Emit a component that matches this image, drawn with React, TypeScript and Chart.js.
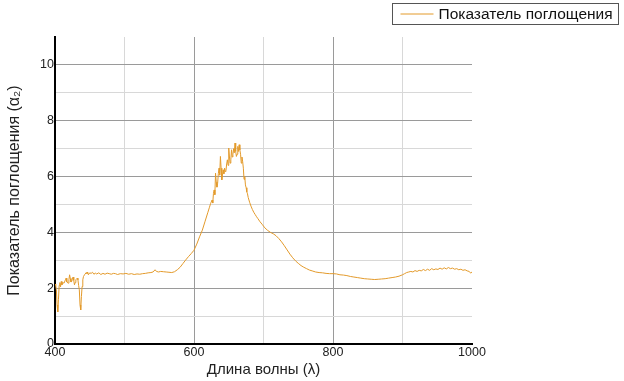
import React, { useEffect, useRef } from 'react';
import { Chart, registerables } from 'chart.js';

Chart.register(...registerables);

const seriesLabel = 'Показатель поглощения';
const xTitle = 'Длина волны (λ)';
const yTitle = 'Показатель поглощения (α₂)';
const xTickLabels = [400, 600, 800, 1000];
const yTickLabels = [0, 2, 4, 6, 8, 10];

const wavelengths = [
  400, 401, 402, 403, 404, 405, 406, 407, 408, 409, 410, 411, 413, 415, 416, 417, 419, 420, 421, 422,
  423, 424, 425, 426, 427, 428, 429, 430, 432, 433, 434, 435, 436, 437, 438, 439, 440, 441, 443, 445,
  446, 447, 448, 450, 452, 454, 456, 458, 460, 463, 466, 469, 472, 475, 478, 481, 484, 487, 490, 494,
  498, 502, 506, 510, 514, 518, 522, 526, 530, 534, 538, 541, 544, 546, 549, 552, 556, 560, 564, 568,
  572, 576, 580, 584, 588, 592, 596, 600, 604, 608, 612, 616, 620, 622, 624, 626, 627, 628, 629, 630,
  631, 632, 633, 634, 635, 636, 637, 638, 639, 640, 641, 642, 643, 644, 645, 646, 647, 648, 649, 650,
  651, 652, 653, 654, 655, 656, 657, 658, 659, 660, 661, 662, 663, 664, 665, 666, 667, 668, 669, 670,
  671, 672, 673, 674, 675, 676, 677, 678, 680, 682, 684, 686, 688, 690, 692, 695, 698, 702, 706, 710,
  714, 718, 722, 726, 730, 734, 738, 742, 746, 750, 754, 758, 762, 766, 770, 775, 780, 785, 790, 795,
  800, 805, 810, 815, 820, 825, 830, 835, 840, 845, 850, 855, 860, 865, 870, 875, 880, 885, 890, 895,
  900, 903, 906, 909, 912, 915, 918, 921, 924, 927, 930, 933, 936, 939, 942, 945, 948, 951, 954, 957,
  960, 963, 966, 969, 972, 975, 978, 981, 984, 987, 990, 993, 996, 998, 1000,
];

const absorption = [
  2.15, 2.10, 1.95, 1.40, 1.15, 1.60, 2.10, 2.20, 2.05, 2.24, 2.12, 2.20, 2.18, 2.30, 2.36, 2.22, 2.18, 2.30, 2.48, 2.35,
  2.22, 2.24, 2.32, 2.40, 2.28, 2.12, 2.20, 2.30, 2.36, 2.30, 2.10, 1.94, 1.40, 1.22, 1.70, 2.06, 2.30, 2.42, 2.50, 2.56,
  2.52, 2.58, 2.48, 2.55, 2.53, 2.57, 2.50, 2.54, 2.51, 2.55, 2.49, 2.53, 2.50, 2.54, 2.52, 2.50, 2.53, 2.52, 2.49, 2.52,
  2.51, 2.53, 2.50, 2.52, 2.49, 2.51, 2.50, 2.52, 2.53, 2.55, 2.56, 2.58, 2.66, 2.60, 2.58, 2.60, 2.59, 2.58, 2.57, 2.56,
  2.59, 2.66, 2.75, 2.88, 3.01, 3.13, 3.24, 3.36, 3.58, 3.84, 4.08, 4.40, 4.72, 4.88, 5.04, 5.16, 5.05, 5.40, 5.52, 5.35,
  6.12, 5.80, 5.62, 5.76, 6.10, 6.30, 6.05, 6.72, 6.30, 5.88, 6.05, 6.24, 6.10, 6.30, 6.18, 6.22, 6.45, 6.60, 6.40, 7.02,
  6.70, 6.48, 6.60, 6.96, 6.70, 6.80, 7.00, 6.85, 7.20, 6.90, 6.72, 6.80, 7.08, 6.90, 7.14, 6.95, 6.80, 6.48, 6.70, 6.54,
  6.30, 5.90, 6.00, 5.70, 5.60, 5.45, 5.38, 5.25, 5.08, 4.94, 4.82, 4.72, 4.64, 4.56, 4.49, 4.38, 4.29, 4.16, 4.07, 4.00,
  3.95, 3.88, 3.78, 3.66, 3.52, 3.37, 3.22, 3.09, 2.98, 2.89, 2.81, 2.75, 2.70, 2.65, 2.62, 2.58, 2.56, 2.55, 2.53, 2.52,
  2.52, 2.51, 2.48, 2.47, 2.45, 2.42, 2.40, 2.38, 2.36, 2.34, 2.33, 2.32, 2.31, 2.32, 2.33, 2.34, 2.36, 2.38, 2.40, 2.43,
  2.48, 2.52, 2.56, 2.58, 2.60, 2.58, 2.63, 2.60, 2.64, 2.62, 2.67, 2.63, 2.68, 2.64, 2.70, 2.66, 2.69, 2.67, 2.72, 2.68,
  2.73, 2.69, 2.74, 2.70, 2.72, 2.68, 2.70, 2.66, 2.68, 2.64, 2.66, 2.62, 2.60, 2.54, 2.58,
];

const FONT = 'Arial, "Liberation Sans", sans-serif';
const LINE_COLOR = '#E39A2B';

const boxLegend = {
  id: 'boxLegend',
  afterDraw(chart: any) {
    const ctx = chart.ctx;
    const ds = chart.data.datasets[0];
    ctx.save();
    ctx.font = `15.5px ${FONT}`;
    const tw = ctx.measureText(ds.label).width;
    const right = 618.5;
    const top = 3.5;
    const h = 21;
    const padL = 8;
    const lineLen = 33;
    const gap = 5;
    const padR = 6;
    const w = padL + lineLen + gap + tw + padR;
    const left = Math.round(right - w) + 0.5;
    ctx.fillStyle = '#fff';
    ctx.fillRect(left, top, right - left, h);
    ctx.strokeStyle = '#555';
    ctx.lineWidth = 1;
    ctx.strokeRect(left, top, right - left, h);
    ctx.strokeStyle = ds.borderColor;
    ctx.lineWidth = 1;
    ctx.beginPath();
    ctx.moveTo(left + padL, top + h / 2);
    ctx.lineTo(left + padL + lineLen, top + h / 2);
    ctx.stroke();
    ctx.fillStyle = '#111';
    ctx.textBaseline = 'middle';
    ctx.textAlign = 'left';
    ctx.fillText(ds.label, left + padL + lineLen + gap, top + h / 2 + 1);
    ctx.restore();
  },
};

export default function App() {
  const ref = useRef<HTMLCanvasElement | null>(null);

  useEffect(() => {
    if (!ref.current) return;
    const points = wavelengths.map((x, i) => ({ x, y: absorption[i] }));
    const chart = new Chart(ref.current, {
      type: 'line',
      data: {
        datasets: [
          {
            label: seriesLabel,
            data: points,
            borderColor: LINE_COLOR,
            backgroundColor: LINE_COLOR,
            borderWidth: 1,
            pointRadius: 0,
            tension: 0,
            fill: false,
          },
        ],
      },
      options: {
        responsive: false,
        animation: false,
        layout: { padding: { top: 37, right: 152, left: 0, bottom: 0 } },
        plugins: {
          legend: { display: false },
          tooltip: { enabled: false },
        },
        scales: {
          x: {
            type: 'linear',
            min: 400,
            max: 1000,
            afterFit: (s: any) => {
              s.height = 37;
            },
            border: { color: '#000', width: 2 },
            grid: {
              drawTicks: false,
              color: (c: any) => {
                const v = c.tick ? c.tick.value : 0;
                if (v === 1000) return 'rgba(0,0,0,0)';
                return v % 200 === 0 ? '#9a9a9a' : '#d8d8d8';
              },
            },
            ticks: {
              stepSize: 100,
              autoSkip: false,
              maxRotation: 0,
              padding: 1,
              color: '#222',
              font: { family: FONT, size: 12.5 },
              callback: (v: any) => (xTickLabels.includes(Number(v)) ? String(v) : ''),
            },
            title: {
              display: true,
              text: xTitle,
              color: '#222',
              font: { family: FONT, size: 15 },
              padding: { top: 0, bottom: 2 },
            },
          },
          y: {
            type: 'linear',
            min: 0,
            max: 11,
            afterFit: (s: any) => {
              s.width = 55;
            },
            border: { color: '#000', width: 2 },
            grid: {
              drawTicks: false,
              color: (c: any) => {
                const v = c.tick ? c.tick.value : 0;
                if (v === 11) return 'rgba(0,0,0,0)';
                return v % 2 === 0 ? '#9a9a9a' : '#d8d8d8';
              },
            },
            ticks: {
              stepSize: 1,
              autoSkip: false,
              padding: 1,
              color: '#222',
              font: { family: FONT, size: 12.5 },
              callback: (v: any) => (yTickLabels.includes(Number(v)) ? String(v) : ''),
            },
            title: {
              display: true,
              text: yTitle,
              color: '#222',
              font: { family: FONT, size: 16 },
              padding: { top: 5, bottom: 0 },
            },
          },
        },
      },
      plugins: [boxLegend],
    });
    return () => chart.destroy();
  }, []);

  return (
    <div style={{ position: 'fixed', left: 0, top: 0, width: 624, height: 381, background: '#fff' }}>
      <canvas ref={ref} width={624} height={381} />
    </div>
  );
}
